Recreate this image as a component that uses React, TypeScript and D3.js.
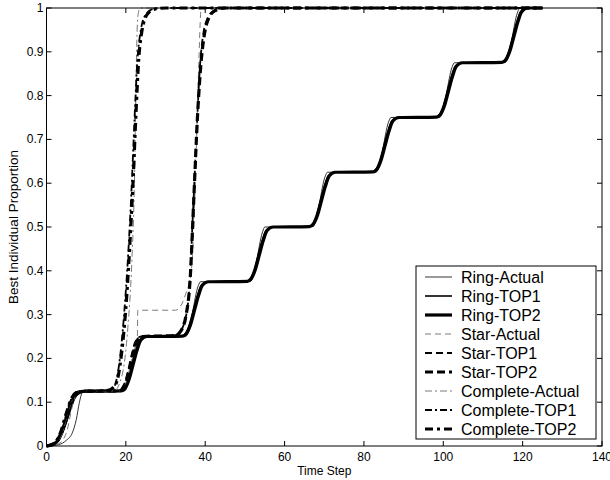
import React from 'react'
import * as d3 from 'd3'

// values: [time step, best individual proportion]
const ringActual = [
  [0, 0], [3, 0.003], [5, 0.013], [6.5, 0.03], [7.5, 0.06], [8.3, 0.1], [9, 0.122], [9.5, 0.125],
  [19.8, 0.126], [20.3, 0.135], [22.8, 0.24], [23.3, 0.25],
  [35.2, 0.251], [35.7, 0.26], [38.3, 0.367], [38.8, 0.375],
  [51.5, 0.376], [52, 0.385], [54.5, 0.49], [55, 0.5],
  [67.2, 0.501], [67.7, 0.51], [70.3, 0.617], [70.8, 0.625],
  [83.2, 0.626], [83.7, 0.635], [86.3, 0.742], [86.8, 0.75],
  [99.2, 0.751], [99.7, 0.76], [102.3, 0.867], [102.8, 0.875],
  [115.7, 0.876], [116.2, 0.885], [118.8, 0.992], [119.3, 1], [125, 1],
]
const ringTop1 = [
  [0, 0], [1.5, 0.002], [3, 0.012], [4, 0.03], [5, 0.055], [6, 0.083], [7, 0.108], [8, 0.12], [9.5, 0.125],
  [18.5, 0.126], [19.5, 0.132], [20.5, 0.152], [21.5, 0.185], [22.5, 0.218], [23.5, 0.242], [25, 0.25],
  [34, 0.251], [35, 0.257], [36, 0.277], [37, 0.31], [38, 0.343], [39, 0.367], [40.5, 0.375],
  [50.3, 0.376], [51.3, 0.382], [52.3, 0.402], [53.3, 0.435], [54.3, 0.468], [55.3, 0.492], [56.8, 0.5],
  [66, 0.501], [67, 0.507], [68, 0.527], [69, 0.56], [70, 0.593], [71, 0.617], [72.5, 0.625],
  [82, 0.626], [83, 0.632], [84, 0.652], [85, 0.685], [86, 0.718], [87, 0.742], [88.5, 0.75],
  [98, 0.751], [99, 0.757], [100, 0.777], [101, 0.81], [102, 0.843], [103, 0.867], [104.5, 0.875],
  [114.5, 0.876], [115.5, 0.882], [116.5, 0.902], [117.5, 0.935], [118.5, 0.968], [119.5, 0.992], [121, 1], [125, 1],
]
const ringTop2 = [
  [0, 0], [1.5, 0.003], [3, 0.014], [4, 0.034], [5, 0.06], [6, 0.088], [7, 0.111], [8, 0.121], [9.5, 0.125],
  [18.8, 0.126], [19.8, 0.132], [20.8, 0.152], [21.8, 0.185], [22.8, 0.218], [23.8, 0.242], [25.3, 0.25],
  [34.3, 0.251], [35.3, 0.257], [36.3, 0.277], [37.3, 0.31], [38.3, 0.343], [39.3, 0.367], [40.8, 0.375],
  [50.6, 0.376], [51.6, 0.382], [52.6, 0.402], [53.6, 0.435], [54.6, 0.468], [55.6, 0.492], [57.1, 0.5],
  [66.3, 0.501], [67.3, 0.507], [68.3, 0.527], [69.3, 0.56], [70.3, 0.593], [71.3, 0.617], [72.8, 0.625],
  [82.3, 0.626], [83.3, 0.632], [84.3, 0.652], [85.3, 0.685], [86.3, 0.718], [87.3, 0.742], [88.8, 0.75],
  [98.3, 0.751], [99.3, 0.757], [100.3, 0.777], [101.3, 0.81], [102.3, 0.843], [103.3, 0.867], [104.8, 0.875],
  [114.8, 0.876], [115.8, 0.882], [116.8, 0.902], [117.8, 0.935], [118.8, 0.968], [119.8, 0.992], [121.3, 1], [125, 1],
]
const starActual = [
  [0, 0], [3, 0.005], [5, 0.03], [6.5, 0.09], [7.5, 0.118], [9, 0.125],
  [19, 0.126], [20.5, 0.16], [22, 0.22], [22.9, 0.25], [23, 0.31],
  [32.5, 0.31], [35, 0.345], [36.5, 0.4], [37.5, 0.6], [38.3, 0.85], [39, 1], [125, 1],
]
const starTop1 = [
  [0, 0], [2, 0.005], [3, 0.015], [4.5, 0.045], [5.5, 0.08], [6.5, 0.105], [7.5, 0.12], [9, 0.125],
  [18, 0.126], [19.5, 0.14], [20.5, 0.17], [21.5, 0.21], [22.5, 0.24], [24, 0.25],
  [32, 0.252], [33.5, 0.26], [35, 0.29], [36, 0.36], [37, 0.55], [38, 0.75], [38.7, 0.87],
  [39.5, 0.94], [40.5, 0.975], [42, 0.993], [44, 1], [125, 1],
]
const starTop2 = [
  [0, 0], [2, 0.006], [3, 0.018], [4.5, 0.05], [5.5, 0.085], [6.5, 0.108], [7.5, 0.121], [9, 0.125],
  [18.3, 0.126], [19.8, 0.14], [20.8, 0.17], [21.8, 0.21], [22.8, 0.24], [24.3, 0.25],
  [32.3, 0.252], [33.8, 0.262], [35.2, 0.3], [36.2, 0.38], [37.1, 0.56], [38.1, 0.76], [38.9, 0.87],
  [39.8, 0.94], [40.8, 0.975], [42.5, 0.994], [45, 1], [125, 1],
]
const completeActual = [
  [0, 0], [2, 0.004], [4, 0.03], [5.5, 0.08], [7, 0.115], [8.5, 0.125],
  [17, 0.126], [19, 0.16], [20.5, 0.27], [21.5, 0.42], [22.2, 0.62], [22.6, 0.85], [23, 0.98], [23.6, 1], [125, 1],
]
const completeTop1 = [
  [0, 0], [2, 0.005], [3.5, 0.025], [5, 0.07], [6.5, 0.11], [8, 0.124],
  [15, 0.127], [17, 0.135], [18.5, 0.2], [19.8, 0.33], [20.6, 0.44], [21.4, 0.58], [22.2, 0.75],
  [22.9, 0.88], [23.6, 0.94], [25, 0.985], [27, 0.998], [29, 1], [125, 1],
]
const completeTop2 = [
  [0, 0], [2, 0.006], [3.5, 0.03], [5, 0.075], [6.5, 0.112], [8, 0.124],
  [15.5, 0.127], [17.4, 0.14], [18.9, 0.21], [20.2, 0.34], [21, 0.46], [21.8, 0.6], [22.6, 0.77],
  [23.3, 0.89], [24, 0.945], [25.5, 0.987], [27.5, 0.998], [30, 1], [125, 1],
]

const seriesNames = [
  'Ring-Actual', 'Ring-TOP1', 'Ring-TOP2',
  'Star-Actual', 'Star-TOP1', 'Star-TOP2',
  'Complete-Actual', 'Complete-TOP1', 'Complete-TOP2',
]
const seriesData = [
  ringActual, ringTop1, ringTop2,
  starActual, starTop1, starTop2,
  completeActual, completeTop1, completeTop2,
]
const xTicks = [0, 20, 40, 60, 80, 100, 120, 140]
const yTicks = [0, 0.1, 0.2, 0.3, 0.4, 0.5, 0.6, 0.7, 0.8, 0.9, 1]

// line styles, same order as the series
const styles = [
  { color: '#000', width: 0.8, dash: null },
  { color: '#000', width: 1.6, dash: null },
  { color: '#000', width: 3.2, dash: null },
  { color: '#7a7a7a', width: 1, dash: '6 4' },
  { color: '#000', width: 1.8, dash: '7 4' },
  { color: '#000', width: 3.2, dash: '8 4' },
  { color: '#7a7a7a', width: 1, dash: '7 3 2 3' },
  { color: '#000', width: 1.8, dash: '7 3 2 3' },
  { color: '#000', width: 3.2, dash: '8 4 3 4' },
]

const font = '"Liberation Sans", Arial, Helvetica, sans-serif'

const App = () => {
  const width = 610
  const height = 480
  const x = d3.scaleLinear().domain([0, 140]).range([46.5, 602])
  const y = d3.scaleLinear().domain([0, 1]).range([446, 8])
  const line = d3.line<number[]>()
    .x((d) => x(d[0]))
    .y((d) => y(d[1]))
    .curve(d3.curveMonotoneX)

  const legX = 416
  const legY = 266
  const legW = 180
  const legH = 173
  const rowH = 19

  return (
    <svg width={width} height={height} style={{ position: 'absolute', left: 0, top: 0, background: '#fff' }}>
      <rect x={0} y={0} width={width} height={height} fill="#fff" />
      <g fill="none" strokeLinejoin="round">
        {seriesData.map((d, i) => (
          <path
            key={seriesNames[i]}
            d={line(d) || ''}
            stroke={styles[i].color}
            strokeWidth={styles[i].width}
            strokeDasharray={styles[i].dash || undefined}
          />
        ))}
      </g>
      {/* axes box with inward ticks */}
      <rect x={x(0)} y={y(1)} width={x(140) - x(0)} height={y(0) - y(1)} fill="none" stroke="#000" strokeWidth={1} />
      <g stroke="#000" strokeWidth={1}>
        {xTicks.map((t) => (
          <g key={t}>
            <line x1={x(t)} x2={x(t)} y1={y(0)} y2={y(0) - 5} />
            <line x1={x(t)} x2={x(t)} y1={y(1)} y2={y(1) + 5} />
          </g>
        ))}
        {yTicks.map((t) => (
          <g key={t}>
            <line x1={x(0)} x2={x(0) + 5} y1={y(t)} y2={y(t)} />
            <line x1={x(140)} x2={x(140) - 5} y1={y(t)} y2={y(t)} />
          </g>
        ))}
      </g>
      <g fontFamily={font} fontSize={12} fill="#000">
        {xTicks.map((t) => (
          <text key={t} x={x(t)} y={y(0) + 15} textAnchor="middle">{t}</text>
        ))}
        {yTicks.map((t) => (
          <text key={t} x={x(0) - 3} y={y(t) + 4} textAnchor="end">{d3.format('~g')(t)}</text>
        ))}
        <text x={x(70)} y={475} textAnchor="middle" fontSize={12}>Time Step</text>
        <text transform={`translate(18,${y(0.5)}) rotate(-90)`} textAnchor="middle" fontSize={13.5}>Best Individual Proportion</text>
      </g>
      {/* legend */}
      <rect x={legX} y={legY} width={legW} height={legH} fill="#fff" stroke="#000" strokeWidth={1} />
      {seriesNames.map((name, i) => {
        const cy = legY + 11 + i * rowH
        return (
          <g key={name}>
            <line
              x1={legX + 9}
              x2={legX + 36}
              y1={cy}
              y2={cy}
              stroke={styles[i].color}
              strokeWidth={styles[i].width}
              strokeDasharray={styles[i].dash || undefined}
            />
            <text x={legX + 45} y={cy + 5.5} fontFamily={font} fontSize={16}>{name}</text>
          </g>
        )
      })}
    </svg>
  )
}

export default App
